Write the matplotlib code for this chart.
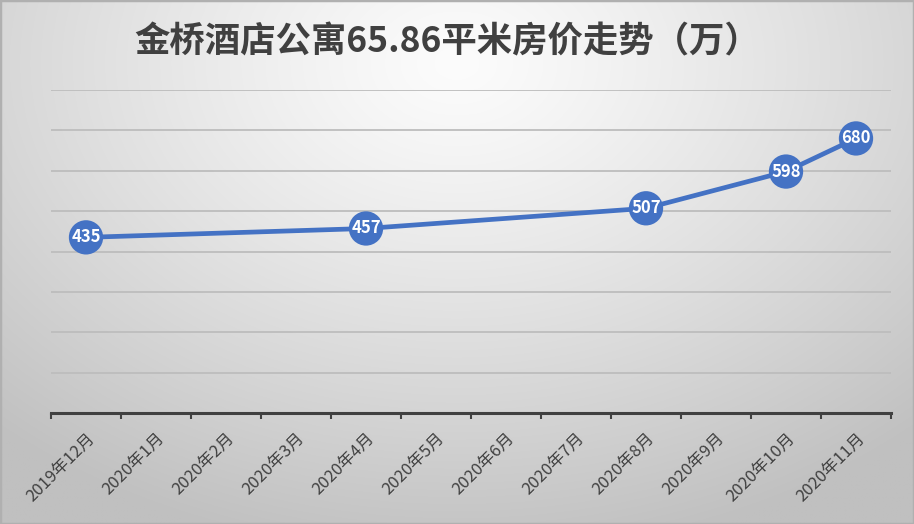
import numpy as np
import matplotlib
matplotlib.use('Agg')
import matplotlib.pyplot as plt
import matplotlib.patches as patches

plt.rcParams['font.family'] = ['Noto Sans CJK SC', 'DejaVu Sans']

title = '金桥酒店公寓65.86平米房价走势（万）'
months = ['2019年12月', '2020年1月', '2020年2月', '2020年3月', '2020年4月',
          '2020年5月', '2020年6月', '2020年7月', '2020年8月', '2020年9月',
          '2020年10月', '2020年11月']
prices = [435, None, None, None, 457, None, None, None, 507, None, 598, 680]

blue = '#4472C4'
text_col = '#404040'

fig = plt.figure(figsize=(9.14, 5.24), dpi=100)

# radial gradient background
bg = fig.add_axes([0, 0, 1, 1], zorder=-10)
yy, xx = np.mgrid[0:1:400j, 0:1:700j]
r = np.sqrt(((xx - 0.5) / 0.75) ** 2 + ((yy - 0.12) / 0.95) ** 2)
grey = 252 - 60 * np.clip(r, 0, 1) ** 1.2
img = np.dstack([grey, grey, grey]) / 255.0
bg.imshow(img, extent=[0, 1, 0, 1], origin='upper', aspect='auto')
bg.set_xlim(0, 1)
bg.set_ylim(0, 1)
bg.set_axis_off()
bg.add_patch(patches.Rectangle((0, 0), 1, 1, transform=bg.transAxes,
                               fill=False, edgecolor='#b0b0b0', lw=2.5))

ax = fig.add_axes([51 / 914, 111 / 524, 840 / 914, 323 / 524])
ax.patch.set_alpha(0)

xs = [i + 0.5 for i, v in enumerate(prices) if v is not None]
ys = [v for v in prices if v is not None]
ax.plot(xs, ys, color=blue, lw=3.4, zorder=3, solid_capstyle='round')
ax.scatter(xs, ys, s=610, color=blue, zorder=4, edgecolors='none')
for x, y in zip(xs, ys):
    ax.text(x, y, str(y), color='white', fontsize=12, fontweight='bold',
            ha='center', va='center', zorder=5)

ax.set_xlim(0, len(months))
ax.set_ylim(0, 800)
ax.set_yticks(range(100, 801, 100))
ax.yaxis.grid(True, color='#bdbdbd', lw=1.3)
ax.set_axisbelow(True)
ax.tick_params(axis='y', left=False, labelleft=False)

ax.set_xticks(range(len(months) + 1))
ax.set_xticklabels([])
ax.tick_params(axis='x', which='major', length=4, width=1.5, color=text_col)
ax.set_xticks([i + 0.5 for i in range(len(months))], minor=True)
ax.set_xticklabels(months, minor=True, rotation=45, ha='right', va='top',
                   rotation_mode='anchor', fontsize=12, color=text_col)
ax.tick_params(axis='x', which='minor', length=0, pad=12)

for side in ['left', 'right', 'top']:
    ax.spines[side].set_visible(False)
ax.spines['bottom'].set_color(text_col)
ax.spines['bottom'].set_linewidth(2.2)

fig.text(0.489, 0.92, title, ha='center', va='center', fontsize=25.5,
         fontweight='bold', color=text_col)

fig.savefig('out.png', dpi=100)
